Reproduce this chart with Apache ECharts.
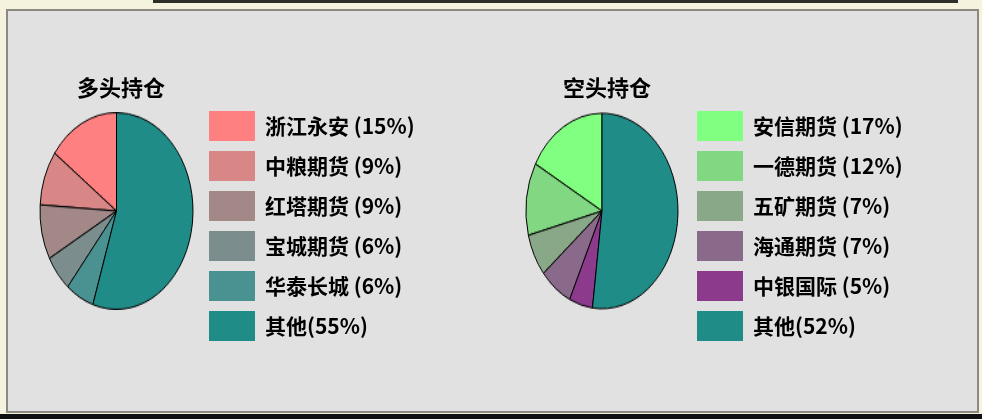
<!DOCTYPE html>
<html>
<head>
<meta charset="utf-8">
<script src="https://cdn.jsdelivr.net/npm/echarts@6/dist/echarts.min.js"></script>
<style>
  html, body { margin: 0; padding: 0; background: #f5f2de; }
  #wrap { position: relative; width: 982px; height: 419px; overflow: hidden; }
  #main { position: absolute; left: 0; top: 0; width: 982px; height: 419px; }
  #pies { position: absolute; left: 0; top: 112px; width: 982px; height: 154px;
          transform: scaleY(1.2857); transform-origin: 0 0; pointer-events: none; }
</style>
</head>
<body>
<div id="wrap">
  <div id="main"></div>
  <div id="pies"></div>
</div>
<script>
// 多头持仓
var longNames = ['浙江永安', '中粮期货', '红塔期货', '宝城期货', '华泰长城', '其他'];
var longValues = [15, 9, 9, 6, 6, 55];
var longColors = ['#ff8080', '#d98686', '#a38888', '#7b8d8d', '#4a9191', '#1f8c88'];

// 空头持仓
var shortNames = ['安信期货', '一德期货', '五矿期货', '海通期货', '中银国际', '其他'];
var shortValues = [17, 12, 7, 7, 5, 52];
var shortColors = ['#80ff80', '#82d882', '#88a888', '#8a6a8a', '#8c3a8c', '#1f8c88'];

var font = '"Noto Sans CJK SC", sans-serif';

function toData(names, values, colors) {
    return names.map(function (n, i) {
        return { name: n, value: values[i], itemStyle: { color: colors[i] } };
    });
}

function legendLabel(name, names, values) {
    var i = names.indexOf(name);
    return name === '其他' ? name + '(' + values[i] + '%)' : name + ' (' + values[i] + '%)';
}

function legend(left, names, values) {
    return {
        orient: 'vertical',
        left: left,
        top: 111,
        padding: 0,
        icon: 'rect',
        itemWidth: 46,
        itemHeight: 30,
        itemGap: 10,
        selectedMode: false,
        itemStyle: { borderWidth: 0 },
        data: names,
        formatter: function (name) { return legendLabel(name, names, values); },
        textStyle: { fontFamily: font, fontSize: 21, fontWeight: 'bold', color: '#000', padding: [0, 0, 0, 5] }
    };
}

var main = echarts.init(document.getElementById('main'));
main.setOption({
    backgroundColor: '#f5f2de',
    animation: false,
    graphic: [
        { type: 'rect', shape: { x: 153, y: 0, width: 805, height: 3 }, style: { fill: '#2e2e28' } },
        { type: 'rect', shape: { x: 7, y: 10, width: 971, height: 402 },
          style: { fill: '#e1e1e1', stroke: '#8c8a80', lineWidth: 2 } },
        { type: 'rect', shape: { x: 0, y: 414, width: 982, height: 5 }, style: { fill: '#101010' } }
    ],
    title: [
        { text: '多头持仓', left: 116, top: 72, textAlign: 'center',
          textStyle: { fontFamily: font, fontSize: 22, fontWeight: 'bold', color: '#000' } },
        { text: '空头持仓', left: 602, top: 72, textAlign: 'center',
          textStyle: { fontFamily: font, fontSize: 22, fontWeight: 'bold', color: '#000' } }
    ],
    legend: [legend(209, longNames, longValues), legend(697, shortNames, shortValues)],
    series: [
        { type: 'pie', radius: 0, center: [116, 211], silent: true, label: { show: false },
          itemStyle: { borderWidth: 0 }, data: toData(longNames, longValues, longColors) },
        { type: 'pie', radius: 0, center: [602, 211], silent: true, label: { show: false },
          itemStyle: { borderWidth: 0 }, data: toData(shortNames, shortValues, shortColors) }
    ]
});

// pies drawn in a vertically stretched layer to get the oval shape
var pies = echarts.init(document.getElementById('pies'));
pies.setOption({
    animation: false,
    series: [
        { type: 'pie', radius: 76.5, center: [116.5, 77], startAngle: 90, clockwise: false,
          label: { show: false }, labelLine: { show: false }, silent: true,
          itemStyle: { borderColor: '#000', borderWidth: 1 },
          data: toData(longNames, longValues, longColors) },
        { type: 'pie', radius: 76, center: [602, 77], startAngle: 90, clockwise: false,
          label: { show: false }, labelLine: { show: false }, silent: true,
          itemStyle: { borderColor: '#000', borderWidth: 1 },
          data: toData(shortNames, shortValues, shortColors) }
    ]
});
</script>
</body>
</html>
